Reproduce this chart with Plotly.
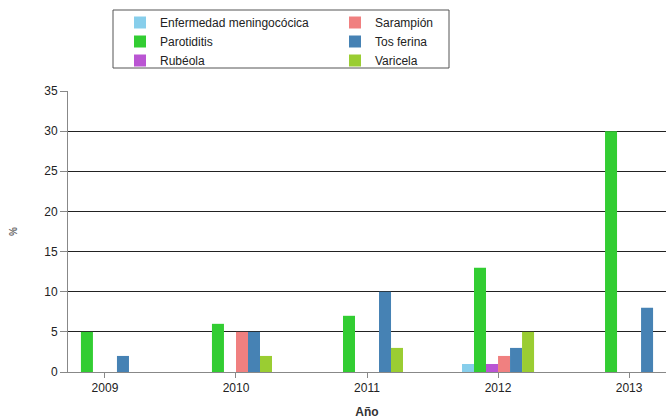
import plotly.graph_objects as go

years = ["2009", "2010", "2011", "2012", "2013"]
series_names = ["Enfermedad meningocócica", "Parotiditis", "Rubéola", "Sarampión", "Tos ferina", "Varicela"]
meningococica = [None, None, None, 1, None]
parotiditis = [5, 6, 7, 13, 30]
rubeola = [None, None, None, 1, None]
sarampion = [None, 5, None, 2, None]
tos_ferina = [2, 5, 10, 3, 8]
varicela = [None, 2, 3, 5, None]
series_values = [meningococica, parotiditis, rubeola, sarampion, tos_ferina, varicela]
colors = ["#87CEEB", "#32CD32", "#BA55D3", "#F08080", "#4682B4", "#9ACD32"]
legend_ids = ["legend", "legend", "legend", "legend2", "legend2", "legend2"]
y_ticks = [0, 5, 10, 15, 20, 25, 30, 35]

fig = go.Figure()
for name, vals, col, lg in zip(series_names, series_values, colors, legend_ids):
    fig.add_trace(go.Bar(x=years, y=vals, name=name, marker_color=col,
                         marker_line_width=0, legend=lg))

W, H = 666, 419
L, R, T, B = 68, 0, 91, 47
pw, ph = W - L - R, H - T - B

def px(x):
    return (x - L) / pw

def py(y):
    return (H - B - y) / ph

font = dict(family="Liberation Sans, Arial, sans-serif", size=12, color="#222")

fig.update_layout(
    width=W, height=H,
    margin=dict(l=L, r=R, t=T, b=B, autoexpand=False),
    paper_bgcolor="white", plot_bgcolor="white",
    font=font,
    barmode="group", bargap=0.45, bargroupgap=0,
    legend=dict(x=px(120), y=py(8), xanchor="left", yanchor="top",
                orientation="v", bgcolor="rgba(0,0,0,0)", borderwidth=0,
                font=font, tracegroupgap=0),
    legend2=dict(x=px(335), y=py(8), xanchor="left", yanchor="top",
                 orientation="v", bgcolor="rgba(0,0,0,0)", borderwidth=0,
                 font=font, tracegroupgap=0),
    shapes=[dict(type="rect", xref="paper", yref="paper",
                 x0=px(113), x1=px(449), y0=py(68), y1=py(10),
                 line=dict(color="#555", width=1), fillcolor="rgba(0,0,0,0)")],
)
fig.update_xaxes(
    type="category", range=[-0.282, 4.282], automargin=False,
    showline=True, linecolor="#888", linewidth=1,
    ticks="outside", ticklen=5, tickcolor="#888",
    showgrid=False, tickfont=font,
    title=dict(text="<b>Año</b>", font=dict(family=font["family"], size=12, color="#333"), standoff=14),
)
fig.update_yaxes(
    range=[0, 35], tickvals=y_ticks, automargin=False,
    showline=True, linecolor="#888", linewidth=1,
    ticks="outside", ticklen=7, tickcolor="#888",
    showgrid=True, gridcolor="#222", gridwidth=1, zeroline=False,
    tickfont=font,
    title=dict(text="<b>%</b>", font=dict(family=font["family"], size=10, color="#666"), standoff=24),
)
fig.write_html("out.html", config={"displayModeBar": False},
               post_script="document.body.style.margin='0px';")
